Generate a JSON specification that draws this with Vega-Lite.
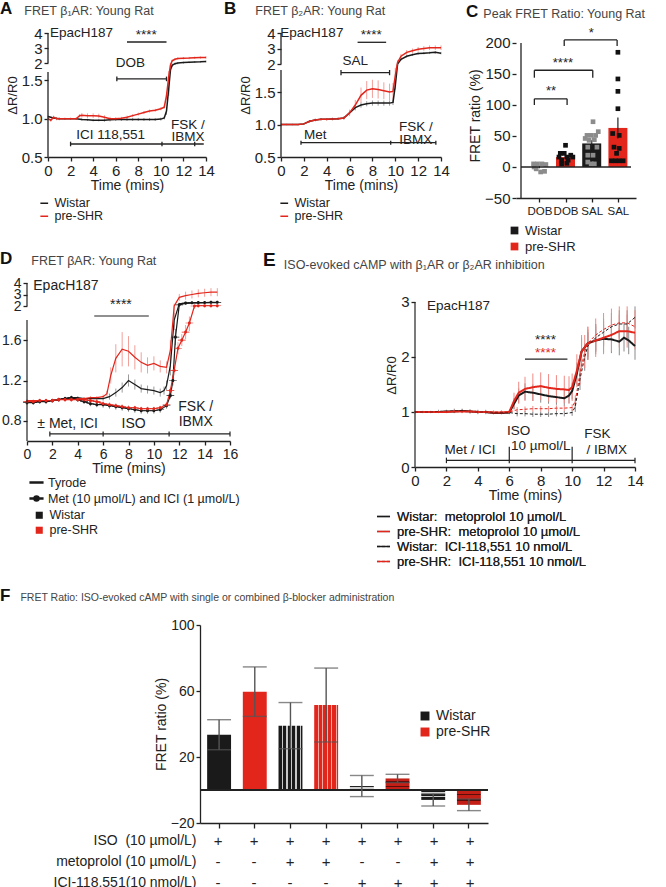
{
"$schema":"https://vega.github.io/schema/vega-lite/v6.json",
"padding":0,
"config":{
 "font":"Liberation Sans",
 "view":{"stroke":null},
 "axis":{"grid":false,"domainColor":"#222","tickColor":"#222","labelColor":"#222","titleColor":"#222","titleFontWeight":"normal","labelFontSize":15,"titleFontSize":14,"tickSize":4,"domainWidth":1.3,"tickWidth":1.3,"labelPadding":2,"titlePadding":2,"labelOverlap":false,"labelFlush":false},
 "legend":{"labelFontSize":12.5,"labelColor":"#222","rowPadding":1,"labelLimit":400},
 "title":{"anchor":"start","frame":"group","fontSize":17,"fontWeight":"bold","color":"#111","subtitleFontSize":12.5,"subtitleColor":"#444","subtitleFont":"Liberation Sans","subtitlePadding":-13.5},
 "text":{"font":"Liberation Sans"}
},
"datasets":{
 "a":[
  {"t":0,"g":"Wistar","v":1.03,"e":0.01},{"t":0.5,"g":"Wistar","v":1.01,"e":0.01},{"t":1,"g":"Wistar","v":1.0,"e":0.01},{"t":1.5,"g":"Wistar","v":1.0,"e":0.01},{"t":2,"g":"Wistar","v":1.0,"e":0.01},{"t":2.5,"g":"Wistar","v":1.0,"e":0.012},{"t":3,"g":"Wistar","v":0.99,"e":0.015},{"t":3.5,"g":"Wistar","v":0.985,"e":0.015},{"t":4,"g":"Wistar","v":0.98,"e":0.015},{"t":4.5,"g":"Wistar","v":0.98,"e":0.015},{"t":5,"g":"Wistar","v":0.98,"e":0.02},{"t":5.5,"g":"Wistar","v":0.985,"e":0.02},{"t":6,"g":"Wistar","v":0.99,"e":0.02},{"t":6.5,"g":"Wistar","v":0.99,"e":0.02},{"t":7,"g":"Wistar","v":0.99,"e":0.02},{"t":7.5,"g":"Wistar","v":0.99,"e":0.02},{"t":8,"g":"Wistar","v":0.99,"e":0.02},{"t":8.5,"g":"Wistar","v":0.99,"e":0.02},{"t":9,"g":"Wistar","v":0.99,"e":0.02},{"t":9.5,"g":"Wistar","v":0.99,"e":0.02},{"t":10,"g":"Wistar","v":0.995,"e":0.02},{"t":10.3,"g":"Wistar","v":1.01,"e":0.02},{"t":10.5,"g":"Wistar","v":1.1,"e":0.05},{"t":10.7,"g":"Wistar","v":1.4,"e":0.1},{"t":10.85,"g":"Wistar","v":1.7,"e":0.1},{"t":11,"g":"Wistar","v":1.9,"e":0.08},{"t":11.25,"g":"Wistar","v":1.97,"e":0.06},{"t":11.5,"g":"Wistar","v":2.0,"e":0.06},{"t":12,"g":"Wistar","v":2.03,"e":0.06},{"t":12.5,"g":"Wistar","v":2.05,"e":0.06},{"t":13,"g":"Wistar","v":2.07,"e":0.06},{"t":13.5,"g":"Wistar","v":2.08,"e":0.06},{"t":14,"g":"Wistar","v":2.1,"e":0.06},
  {"t":0,"g":"pre-SHR","v":1.0,"e":0.02},{"t":0.25,"g":"pre-SHR","v":0.98,"e":0.02},{"t":0.5,"g":"pre-SHR","v":1.02,"e":0.02},{"t":0.75,"g":"pre-SHR","v":1.0,"e":0.02},{"t":1,"g":"pre-SHR","v":1.0,"e":0.02},{"t":1.5,"g":"pre-SHR","v":1.0,"e":0.015},{"t":2,"g":"pre-SHR","v":1.0,"e":0.015},{"t":2.5,"g":"pre-SHR","v":1.0,"e":0.015},{"t":2.8,"g":"pre-SHR","v":1.04,"e":0.02},{"t":3,"g":"pre-SHR","v":1.045,"e":0.03},{"t":3.5,"g":"pre-SHR","v":1.04,"e":0.03},{"t":4,"g":"pre-SHR","v":1.04,"e":0.03},{"t":4.5,"g":"pre-SHR","v":1.035,"e":0.03},{"t":5,"g":"pre-SHR","v":1.02,"e":0.025},{"t":5.5,"g":"pre-SHR","v":1.0,"e":0.025},{"t":6,"g":"pre-SHR","v":1.0,"e":0.02},{"t":6.5,"g":"pre-SHR","v":1.005,"e":0.02},{"t":7,"g":"pre-SHR","v":1.02,"e":0.02},{"t":7.5,"g":"pre-SHR","v":1.04,"e":0.02},{"t":8,"g":"pre-SHR","v":1.06,"e":0.02},{"t":8.5,"g":"pre-SHR","v":1.08,"e":0.02},{"t":9,"g":"pre-SHR","v":1.1,"e":0.02},{"t":9.5,"g":"pre-SHR","v":1.11,"e":0.02},{"t":10,"g":"pre-SHR","v":1.13,"e":0.02},{"t":10.3,"g":"pre-SHR","v":1.15,"e":0.02},{"t":10.5,"g":"pre-SHR","v":1.3,"e":0.05},{"t":10.7,"g":"pre-SHR","v":1.55,"e":0.1},{"t":10.85,"g":"pre-SHR","v":1.9,"e":0.1},{"t":11,"g":"pre-SHR","v":2.15,"e":0.08},{"t":11.25,"g":"pre-SHR","v":2.25,"e":0.08},{"t":11.5,"g":"pre-SHR","v":2.3,"e":0.08},{"t":12,"g":"pre-SHR","v":2.32,"e":0.08},{"t":12.5,"g":"pre-SHR","v":2.33,"e":0.08},{"t":13,"g":"pre-SHR","v":2.35,"e":0.08},{"t":13.5,"g":"pre-SHR","v":2.36,"e":0.08},{"t":14,"g":"pre-SHR","v":2.37,"e":0.08}
 ],
 "b":[
  {"t":0,"g":"Wistar","v":1.0,"e":0.01},{"t":0.5,"g":"Wistar","v":1.0,"e":0.01},{"t":1,"g":"Wistar","v":1.0,"e":0.01},{"t":1.5,"g":"Wistar","v":1.0,"e":0.01},{"t":2,"g":"Wistar","v":1.01,"e":0.01},{"t":2.5,"g":"Wistar","v":1.05,"e":0.02},{"t":3,"g":"Wistar","v":1.07,"e":0.02},{"t":3.5,"g":"Wistar","v":1.08,"e":0.02},{"t":4,"g":"Wistar","v":1.08,"e":0.02},{"t":4.5,"g":"Wistar","v":1.085,"e":0.02},{"t":5,"g":"Wistar","v":1.09,"e":0.02},{"t":5.5,"g":"Wistar","v":1.1,"e":0.02},{"t":6,"g":"Wistar","v":1.18,"e":0.03},{"t":6.5,"g":"Wistar","v":1.26,"e":0.04},{"t":7,"g":"Wistar","v":1.3,"e":0.04},{"t":7.5,"g":"Wistar","v":1.32,"e":0.04},{"t":8,"g":"Wistar","v":1.33,"e":0.04},{"t":8.5,"g":"Wistar","v":1.33,"e":0.04},{"t":9,"g":"Wistar","v":1.33,"e":0.04},{"t":9.5,"g":"Wistar","v":1.33,"e":0.04},{"t":9.8,"g":"Wistar","v":1.34,"e":0.04},{"t":10,"g":"Wistar","v":1.6,"e":0.06},{"t":10.2,"g":"Wistar","v":2.0,"e":0.08},{"t":10.5,"g":"Wistar","v":2.3,"e":0.08},{"t":11,"g":"Wistar","v":2.5,"e":0.08},{"t":11.5,"g":"Wistar","v":2.6,"e":0.08},{"t":12,"g":"Wistar","v":2.67,"e":0.08},{"t":12.5,"g":"Wistar","v":2.7,"e":0.08},{"t":13,"g":"Wistar","v":2.72,"e":0.08},{"t":13.5,"g":"Wistar","v":2.75,"e":0.08},{"t":14,"g":"Wistar","v":2.7,"e":0.08},
  {"t":0,"g":"pre-SHR","v":1.0,"e":0.01},{"t":0.5,"g":"pre-SHR","v":1.0,"e":0.01},{"t":1,"g":"pre-SHR","v":1.0,"e":0.01},{"t":1.5,"g":"pre-SHR","v":1.0,"e":0.01},{"t":2,"g":"pre-SHR","v":1.01,"e":0.01},{"t":2.5,"g":"pre-SHR","v":1.05,"e":0.02},{"t":3,"g":"pre-SHR","v":1.07,"e":0.02},{"t":3.5,"g":"pre-SHR","v":1.08,"e":0.02},{"t":4,"g":"pre-SHR","v":1.08,"e":0.02},{"t":4.5,"g":"pre-SHR","v":1.085,"e":0.02},{"t":5,"g":"pre-SHR","v":1.09,"e":0.02},{"t":5.5,"g":"pre-SHR","v":1.1,"e":0.03},{"t":6,"g":"pre-SHR","v":1.18,"e":0.05},{"t":6.5,"g":"pre-SHR","v":1.3,"e":0.08},{"t":7,"g":"pre-SHR","v":1.45,"e":0.12},{"t":7.5,"g":"pre-SHR","v":1.53,"e":0.14},{"t":8,"g":"pre-SHR","v":1.55,"e":0.14},{"t":8.5,"g":"pre-SHR","v":1.54,"e":0.14},{"t":9,"g":"pre-SHR","v":1.52,"e":0.13},{"t":9.5,"g":"pre-SHR","v":1.5,"e":0.13},{"t":9.8,"g":"pre-SHR","v":1.51,"e":0.13},{"t":10,"g":"pre-SHR","v":1.75,"e":0.15},{"t":10.2,"g":"pre-SHR","v":2.1,"e":0.15},{"t":10.5,"g":"pre-SHR","v":2.5,"e":0.15},{"t":11,"g":"pre-SHR","v":2.75,"e":0.15},{"t":11.5,"g":"pre-SHR","v":2.85,"e":0.15},{"t":12,"g":"pre-SHR","v":2.95,"e":0.15},{"t":12.5,"g":"pre-SHR","v":3.0,"e":0.15},{"t":13,"g":"pre-SHR","v":3.05,"e":0.15},{"t":13.5,"g":"pre-SHR","v":3.05,"e":0.15},{"t":14,"g":"pre-SHR","v":3.05,"e":0.15}
 ],
 "cbar":[
  {"x":1,"g":"Wistar","v":0,"e":2},{"x":2,"g":"pre-SHR","v":16,"e":3},{"x":3,"g":"Wistar","v":38,"e":5},{"x":4,"g":"pre-SHR","v":63,"e":17}
 ],
 "cpts":[
  {"x":0.78,"g":"Wistar","v":5},{"x":0.93,"g":"Wistar","v":5},{"x":1.1,"g":"Wistar","v":5},{"x":1.25,"g":"Wistar","v":4},{"x":0.88,"g":"Wistar","v":-3},{"x":1.05,"g":"Wistar","v":-8},{"x":1.2,"g":"Wistar","v":-7},{"x":0.8,"g":"Wistar","v":0},
  {"x":2.0,"g":"pre-SHR","v":35},{"x":1.8,"g":"pre-SHR","v":22},{"x":1.95,"g":"pre-SHR","v":22},{"x":2.2,"g":"pre-SHR","v":19},{"x":1.75,"g":"pre-SHR","v":16},{"x":2.05,"g":"pre-SHR","v":16},{"x":1.85,"g":"pre-SHR","v":11},{"x":2.1,"g":"pre-SHR","v":11},{"x":2.28,"g":"pre-SHR","v":16},{"x":1.85,"g":"pre-SHR","v":5},{"x":2.05,"g":"pre-SHR","v":6},
  {"x":3.05,"g":"Wistar","v":73},{"x":2.82,"g":"Wistar","v":51},{"x":2.98,"g":"Wistar","v":51},{"x":3.15,"g":"Wistar","v":51},{"x":3.25,"g":"Wistar","v":57},{"x":2.75,"g":"Wistar","v":46},{"x":2.9,"g":"Wistar","v":43},{"x":3.1,"g":"Wistar","v":44},{"x":2.85,"g":"Wistar","v":32},{"x":3.2,"g":"Wistar","v":32},{"x":2.85,"g":"Wistar","v":19},{"x":3.05,"g":"Wistar","v":19},{"x":2.85,"g":"Wistar","v":8},{"x":3.1,"g":"Wistar","v":5},{"x":2.98,"g":"Wistar","v":5},
  {"x":4.0,"g":"pre-SHR","v":185},{"x":4.0,"g":"pre-SHR","v":142},{"x":4.0,"g":"pre-SHR","v":122},{"x":4.0,"g":"pre-SHR","v":94},{"x":3.8,"g":"pre-SHR","v":54},{"x":4.05,"g":"pre-SHR","v":51},{"x":3.85,"g":"pre-SHR","v":32},{"x":4.05,"g":"pre-SHR","v":30},{"x":3.95,"g":"pre-SHR","v":22},{"x":3.75,"g":"pre-SHR","v":10},{"x":3.9,"g":"pre-SHR","v":10},{"x":4.05,"g":"pre-SHR","v":10},{"x":4.2,"g":"pre-SHR","v":10}
 ],
 "d":[
  {"t":0,"g":"Wistar","k":"T","v":1.0,"e":0.01},{"t":0.5,"g":"Wistar","k":"T","v":0.99,"e":0.01},{"t":1,"g":"Wistar","k":"T","v":0.99,"e":0.01},{"t":1.5,"g":"Wistar","k":"T","v":1.0,"e":0.01},{"t":2,"g":"Wistar","k":"T","v":1.0,"e":0.01},{"t":2.5,"g":"Wistar","k":"T","v":1.01,"e":0.01},{"t":3,"g":"Wistar","k":"T","v":1.02,"e":0.015},{"t":3.5,"g":"Wistar","k":"T","v":1.03,"e":0.015},{"t":4,"g":"Wistar","k":"T","v":1.03,"e":0.015},{"t":4.5,"g":"Wistar","k":"T","v":1.02,"e":0.015},{"t":5,"g":"Wistar","k":"T","v":1.02,"e":0.015},{"t":5.5,"g":"Wistar","k":"T","v":1.02,"e":0.015},{"t":6,"g":"Wistar","k":"T","v":1.02,"e":0.02},{"t":6.5,"g":"Wistar","k":"T","v":1.04,"e":0.03},{"t":7,"g":"Wistar","k":"T","v":1.08,"e":0.04},{"t":7.5,"g":"Wistar","k":"T","v":1.13,"e":0.05},{"t":8,"g":"Wistar","k":"T","v":1.2,"e":0.06},{"t":8.5,"g":"Wistar","k":"T","v":1.16,"e":0.05},{"t":9,"g":"Wistar","k":"T","v":1.12,"e":0.04},{"t":9.5,"g":"Wistar","k":"T","v":1.11,"e":0.04},{"t":10,"g":"Wistar","k":"T","v":1.1,"e":0.04},{"t":10.5,"g":"Wistar","k":"T","v":1.08,"e":0.04},{"t":10.8,"g":"Wistar","k":"T","v":1.1,"e":0.04},{"t":11,"g":"Wistar","k":"T","v":1.15,"e":0.05},{"t":11.3,"g":"Wistar","k":"T","v":1.35,"e":0.1},{"t":11.6,"g":"Wistar","k":"T","v":1.8,"e":0.1},{"t":12,"g":"Wistar","k":"T","v":2.2,"e":0.08},{"t":12.5,"g":"Wistar","k":"T","v":2.25,"e":0.08},{"t":13,"g":"Wistar","k":"T","v":2.27,"e":0.08},{"t":13.5,"g":"Wistar","k":"T","v":2.28,"e":0.08},{"t":14,"g":"Wistar","k":"T","v":2.3,"e":0.08},{"t":14.5,"g":"Wistar","k":"T","v":2.3,"e":0.08},{"t":15,"g":"Wistar","k":"T","v":2.3,"e":0.08},
  {"t":0,"g":"pre-SHR","k":"T","v":1.0,"e":0.01},{"t":0.5,"g":"pre-SHR","k":"T","v":1.0,"e":0.01},{"t":1,"g":"pre-SHR","k":"T","v":1.0,"e":0.01},{"t":1.5,"g":"pre-SHR","k":"T","v":1.0,"e":0.01},{"t":2,"g":"pre-SHR","k":"T","v":1.0,"e":0.01},{"t":2.5,"g":"pre-SHR","k":"T","v":1.01,"e":0.01},{"t":3,"g":"pre-SHR","k":"T","v":1.02,"e":0.015},{"t":3.5,"g":"pre-SHR","k":"T","v":1.02,"e":0.015},{"t":4,"g":"pre-SHR","k":"T","v":1.02,"e":0.015},{"t":4.5,"g":"pre-SHR","k":"T","v":1.02,"e":0.015},{"t":5,"g":"pre-SHR","k":"T","v":1.03,"e":0.015},{"t":5.5,"g":"pre-SHR","k":"T","v":1.03,"e":0.015},{"t":6,"g":"pre-SHR","k":"T","v":1.04,"e":0.02},{"t":6.3,"g":"pre-SHR","k":"T","v":1.07,"e":0.03},{"t":6.6,"g":"pre-SHR","k":"T","v":1.25,"e":0.08},{"t":7,"g":"pre-SHR","k":"T","v":1.42,"e":0.14},{"t":7.5,"g":"pre-SHR","k":"T","v":1.51,"e":0.17},{"t":8,"g":"pre-SHR","k":"T","v":1.49,"e":0.15},{"t":8.5,"g":"pre-SHR","k":"T","v":1.43,"e":0.12},{"t":9,"g":"pre-SHR","k":"T","v":1.38,"e":0.1},{"t":9.5,"g":"pre-SHR","k":"T","v":1.35,"e":0.08},{"t":10,"g":"pre-SHR","k":"T","v":1.37,"e":0.07},{"t":10.5,"g":"pre-SHR","k":"T","v":1.34,"e":0.06},{"t":11,"g":"pre-SHR","k":"T","v":1.33,"e":0.06},{"t":11.3,"g":"pre-SHR","k":"T","v":1.5,"e":0.1},{"t":11.6,"g":"pre-SHR","k":"T","v":2.0,"e":0.2},{"t":12,"g":"pre-SHR","k":"T","v":2.75,"e":0.3},{"t":12.5,"g":"pre-SHR","k":"T","v":2.9,"e":0.35},{"t":13,"g":"pre-SHR","k":"T","v":3.0,"e":0.35},{"t":13.5,"g":"pre-SHR","k":"T","v":3.1,"e":0.35},{"t":14,"g":"pre-SHR","k":"T","v":3.15,"e":0.35},{"t":14.5,"g":"pre-SHR","k":"T","v":3.2,"e":0.35},{"t":15,"g":"pre-SHR","k":"T","v":3.2,"e":0.35},
  {"t":0,"g":"Wistar","k":"M","v":0.98,"e":0.02},{"t":0.5,"g":"Wistar","k":"M","v":0.98,"e":0.02},{"t":1,"g":"Wistar","k":"M","v":0.99,"e":0.02},{"t":1.5,"g":"Wistar","k":"M","v":0.99,"e":0.02},{"t":2,"g":"Wistar","k":"M","v":1.0,"e":0.02},{"t":2.5,"g":"Wistar","k":"M","v":1.01,"e":0.02},{"t":3,"g":"Wistar","k":"M","v":1.02,"e":0.02},{"t":3.5,"g":"Wistar","k":"M","v":1.03,"e":0.02},{"t":4,"g":"Wistar","k":"M","v":1.01,"e":0.02},{"t":4.5,"g":"Wistar","k":"M","v":0.99,"e":0.02},{"t":5,"g":"Wistar","k":"M","v":0.97,"e":0.025},{"t":5.5,"g":"Wistar","k":"M","v":0.96,"e":0.025},{"t":6,"g":"Wistar","k":"M","v":0.96,"e":0.03},{"t":6.5,"g":"Wistar","k":"M","v":0.95,"e":0.03},{"t":7,"g":"Wistar","k":"M","v":0.94,"e":0.03},{"t":7.5,"g":"Wistar","k":"M","v":0.93,"e":0.03},{"t":8,"g":"Wistar","k":"M","v":0.92,"e":0.03},{"t":8.5,"g":"Wistar","k":"M","v":0.91,"e":0.03},{"t":9,"g":"Wistar","k":"M","v":0.9,"e":0.03},{"t":9.5,"g":"Wistar","k":"M","v":0.9,"e":0.03},{"t":10,"g":"Wistar","k":"M","v":0.9,"e":0.03},{"t":10.5,"g":"Wistar","k":"M","v":0.91,"e":0.03},{"t":11,"g":"Wistar","k":"M","v":0.95,"e":0.03},{"t":11.3,"g":"Wistar","k":"M","v":1.05,"e":0.03},{"t":11.5,"g":"Wistar","k":"M","v":1.2,"e":0.05},{"t":11.7,"g":"Wistar","k":"M","v":1.63,"e":0.08},{"t":12,"g":"Wistar","k":"M","v":2.1,"e":0.08},{"t":12.5,"g":"Wistar","k":"M","v":2.25,"e":0.06},{"t":13,"g":"Wistar","k":"M","v":2.28,"e":0.06},{"t":13.5,"g":"Wistar","k":"M","v":2.3,"e":0.06},{"t":14,"g":"Wistar","k":"M","v":2.3,"e":0.06},{"t":14.5,"g":"Wistar","k":"M","v":2.32,"e":0.06},{"t":15,"g":"Wistar","k":"M","v":2.32,"e":0.06},
  {"t":0,"g":"pre-SHR","k":"M","v":0.99,"e":0.02},{"t":0.5,"g":"pre-SHR","k":"M","v":0.99,"e":0.02},{"t":1,"g":"pre-SHR","k":"M","v":1.0,"e":0.02},{"t":1.5,"g":"pre-SHR","k":"M","v":1.0,"e":0.02},{"t":2,"g":"pre-SHR","k":"M","v":1.0,"e":0.02},{"t":2.5,"g":"pre-SHR","k":"M","v":1.01,"e":0.02},{"t":3,"g":"pre-SHR","k":"M","v":1.01,"e":0.02},{"t":3.5,"g":"pre-SHR","k":"M","v":1.01,"e":0.02},{"t":4,"g":"pre-SHR","k":"M","v":1.01,"e":0.02},{"t":4.5,"g":"pre-SHR","k":"M","v":1.01,"e":0.02},{"t":5,"g":"pre-SHR","k":"M","v":1.0,"e":0.02},{"t":5.5,"g":"pre-SHR","k":"M","v":0.99,"e":0.02},{"t":6,"g":"pre-SHR","k":"M","v":0.97,"e":0.02},{"t":6.5,"g":"pre-SHR","k":"M","v":0.96,"e":0.02},{"t":7,"g":"pre-SHR","k":"M","v":0.95,"e":0.02},{"t":7.5,"g":"pre-SHR","k":"M","v":0.94,"e":0.02},{"t":8,"g":"pre-SHR","k":"M","v":0.93,"e":0.02},{"t":8.5,"g":"pre-SHR","k":"M","v":0.93,"e":0.02},{"t":9,"g":"pre-SHR","k":"M","v":0.92,"e":0.02},{"t":9.5,"g":"pre-SHR","k":"M","v":0.92,"e":0.02},{"t":10,"g":"pre-SHR","k":"M","v":0.92,"e":0.02},{"t":10.5,"g":"pre-SHR","k":"M","v":0.93,"e":0.02},{"t":11,"g":"pre-SHR","k":"M","v":0.96,"e":0.02},{"t":11.3,"g":"pre-SHR","k":"M","v":1.1,"e":0.03},{"t":11.6,"g":"pre-SHR","k":"M","v":1.3,"e":0.05},{"t":11.9,"g":"pre-SHR","k":"M","v":1.52,"e":0.06},{"t":12.2,"g":"pre-SHR","k":"M","v":1.6,"e":0.06},{"t":12.5,"g":"pre-SHR","k":"M","v":1.68,"e":0.07},{"t":12.8,"g":"pre-SHR","k":"M","v":1.77,"e":0.08},{"t":13.2,"g":"pre-SHR","k":"M","v":2.0,"e":0.04},{"t":13.5,"g":"pre-SHR","k":"M","v":2.02,"e":0.04},{"t":14,"g":"pre-SHR","k":"M","v":2.02,"e":0.04},{"t":14.5,"g":"pre-SHR","k":"M","v":2.02,"e":0.04},{"t":15,"g":"pre-SHR","k":"M","v":2.02,"e":0.04}
 ],
 "e":[
  {"t":0,"s":"WM","v":1.0,"e":0.01},{"t":0.5,"s":"WM","v":1.0,"e":0.01},{"t":1,"s":"WM","v":1.0,"e":0.01},{"t":1.5,"s":"WM","v":1.0,"e":0.01},{"t":2,"s":"WM","v":1.01,"e":0.02},{"t":2.5,"s":"WM","v":1.01,"e":0.02},{"t":3,"s":"WM","v":1.02,"e":0.03},{"t":3.5,"s":"WM","v":1.01,"e":0.02},{"t":4,"s":"WM","v":1.0,"e":0.02},{"t":4.5,"s":"WM","v":1.0,"e":0.02},{"t":5,"s":"WM","v":0.98,"e":0.02},{"t":5.5,"s":"WM","v":0.98,"e":0.02},{"t":6,"s":"WM","v":0.99,"e":0.02},{"t":6.3,"s":"WM","v":1.15,"e":0.1},{"t":6.6,"s":"WM","v":1.3,"e":0.13},{"t":7,"s":"WM","v":1.37,"e":0.15},{"t":7.5,"s":"WM","v":1.35,"e":0.15},{"t":8,"s":"WM","v":1.32,"e":0.15},{"t":8.5,"s":"WM","v":1.29,"e":0.14},{"t":9,"s":"WM","v":1.27,"e":0.14},{"t":9.5,"s":"WM","v":1.25,"e":0.14},{"t":9.8,"s":"WM","v":1.3,"e":0.14},{"t":10,"s":"WM","v":1.38,"e":0.15},{"t":10.3,"s":"WM","v":1.7,"e":0.2},{"t":10.6,"s":"WM","v":2.1,"e":0.25},{"t":11,"s":"WM","v":2.25,"e":0.25},{"t":11.5,"s":"WM","v":2.3,"e":0.25},{"t":12,"s":"WM","v":2.33,"e":0.25},{"t":12.5,"s":"WM","v":2.32,"e":0.25},{"t":13,"s":"WM","v":2.28,"e":0.25},{"t":13.3,"s":"WM","v":2.35,"e":0.25},{"t":13.6,"s":"WM","v":2.3,"e":0.25},{"t":14,"s":"WM","v":2.2,"e":0.25},
  {"t":0,"s":"RM","v":1.0,"e":0.01},{"t":0.5,"s":"RM","v":1.0,"e":0.01},{"t":1,"s":"RM","v":1.0,"e":0.01},{"t":1.5,"s":"RM","v":1.0,"e":0.01},{"t":2,"s":"RM","v":1.0,"e":0.02},{"t":2.5,"s":"RM","v":1.01,"e":0.02},{"t":3,"s":"RM","v":1.01,"e":0.02},{"t":3.5,"s":"RM","v":1.01,"e":0.02},{"t":4,"s":"RM","v":1.0,"e":0.02},{"t":4.5,"s":"RM","v":1.0,"e":0.02},{"t":5,"s":"RM","v":0.99,"e":0.02},{"t":5.5,"s":"RM","v":0.99,"e":0.02},{"t":6,"s":"RM","v":1.0,"e":0.02},{"t":6.3,"s":"RM","v":1.2,"e":0.15},{"t":6.6,"s":"RM","v":1.35,"e":0.2},{"t":7,"s":"RM","v":1.42,"e":0.22},{"t":7.5,"s":"RM","v":1.45,"e":0.25},{"t":8,"s":"RM","v":1.47,"e":0.25},{"t":8.5,"s":"RM","v":1.44,"e":0.25},{"t":9,"s":"RM","v":1.42,"e":0.25},{"t":9.5,"s":"RM","v":1.41,"e":0.25},{"t":9.8,"s":"RM","v":1.4,"e":0.25},{"t":10,"s":"RM","v":1.45,"e":0.25},{"t":10.3,"s":"RM","v":1.75,"e":0.3},{"t":10.6,"s":"RM","v":2.1,"e":0.3},{"t":11,"s":"RM","v":2.25,"e":0.3},{"t":11.5,"s":"RM","v":2.3,"e":0.3},{"t":12,"s":"RM","v":2.35,"e":0.3},{"t":12.5,"s":"RM","v":2.4,"e":0.3},{"t":13,"s":"RM","v":2.47,"e":0.3},{"t":13.5,"s":"RM","v":2.47,"e":0.3},{"t":14,"s":"RM","v":2.44,"e":0.3},
  {"t":0,"s":"WI","v":1.0,"e":0.02},{"t":0.5,"s":"WI","v":1.0,"e":0.02},{"t":1,"s":"WI","v":1.0,"e":0.02},{"t":1.5,"s":"WI","v":1.01,"e":0.03},{"t":2,"s":"WI","v":1.01,"e":0.03},{"t":2.5,"s":"WI","v":1.02,"e":0.04},{"t":3,"s":"WI","v":1.02,"e":0.04},{"t":3.5,"s":"WI","v":1.01,"e":0.04},{"t":4,"s":"WI","v":1.0,"e":0.04},{"t":4.5,"s":"WI","v":1.0,"e":0.04},{"t":5,"s":"WI","v":0.99,"e":0.03},{"t":5.5,"s":"WI","v":0.99,"e":0.03},{"t":6,"s":"WI","v":0.99,"e":0.03},{"t":6.5,"s":"WI","v":0.97,"e":0.05},{"t":7,"s":"WI","v":0.97,"e":0.05},{"t":7.5,"s":"WI","v":0.96,"e":0.05},{"t":8,"s":"WI","v":0.96,"e":0.05},{"t":8.5,"s":"WI","v":0.96,"e":0.05},{"t":9,"s":"WI","v":0.97,"e":0.05},{"t":9.5,"s":"WI","v":0.97,"e":0.05},{"t":10,"s":"WI","v":0.99,"e":0.06},{"t":10.2,"s":"WI","v":1.1,"e":0.1},{"t":10.5,"s":"WI","v":1.6,"e":0.2},{"t":10.8,"s":"WI","v":2.0,"e":0.25},{"t":11,"s":"WI","v":2.2,"e":0.25},{"t":11.5,"s":"WI","v":2.35,"e":0.25},{"t":12,"s":"WI","v":2.45,"e":0.25},{"t":12.5,"s":"WI","v":2.55,"e":0.25},{"t":13,"s":"WI","v":2.6,"e":0.25},{"t":13.5,"s":"WI","v":2.6,"e":0.25},{"t":14,"s":"WI","v":2.72,"e":0.2},
  {"t":0,"s":"RI","v":1.0,"e":0.02},{"t":0.5,"s":"RI","v":1.0,"e":0.02},{"t":1,"s":"RI","v":1.0,"e":0.02},{"t":1.5,"s":"RI","v":1.0,"e":0.02},{"t":2,"s":"RI","v":1.01,"e":0.02},{"t":2.5,"s":"RI","v":1.01,"e":0.03},{"t":3,"s":"RI","v":1.01,"e":0.03},{"t":3.5,"s":"RI","v":1.01,"e":0.03},{"t":4,"s":"RI","v":1.0,"e":0.03},{"t":4.5,"s":"RI","v":1.0,"e":0.03},{"t":5,"s":"RI","v":1.0,"e":0.03},{"t":5.5,"s":"RI","v":1.0,"e":0.03},{"t":6,"s":"RI","v":1.0,"e":0.03},{"t":6.5,"s":"RI","v":1.04,"e":0.05},{"t":7,"s":"RI","v":1.05,"e":0.05},{"t":7.5,"s":"RI","v":1.06,"e":0.05},{"t":8,"s":"RI","v":1.06,"e":0.05},{"t":8.5,"s":"RI","v":1.06,"e":0.05},{"t":9,"s":"RI","v":1.07,"e":0.05},{"t":9.5,"s":"RI","v":1.07,"e":0.05},{"t":10,"s":"RI","v":1.08,"e":0.06},{"t":10.2,"s":"RI","v":1.2,"e":0.1},{"t":10.5,"s":"RI","v":1.7,"e":0.2},{"t":10.8,"s":"RI","v":2.1,"e":0.3},{"t":11,"s":"RI","v":2.25,"e":0.3},{"t":11.5,"s":"RI","v":2.4,"e":0.3},{"t":12,"s":"RI","v":2.5,"e":0.3},{"t":12.5,"s":"RI","v":2.58,"e":0.3},{"t":13,"s":"RI","v":2.62,"e":0.3},{"t":13.5,"s":"RI","v":2.62,"e":0.3},{"t":14,"s":"RI","v":2.55,"e":0.3}
 ],
 "f":[
  {"id":1,"g":"Wistar","v":33.5,"e":9.1},{"id":2,"g":"pre-SHR","v":59.6,"e":15},{"id":3,"g":"Wistar","v":39,"e":14},{"id":4,"g":"pre-SHR","v":51.5,"e":22.4},{"id":5,"g":"Wistar","v":2.4,"e":6.4},{"id":6,"g":"pre-SHR","v":7,"e":2.5},{"id":7,"g":"Wistar","v":-6,"e":3.7},{"id":8,"g":"pre-SHR","v":-9,"e":3.5}
 ],
 "ft":[
  {"id":1,"r":"a","s":"+"},{"id":2,"r":"a","s":"+"},{"id":3,"r":"a","s":"+"},{"id":4,"r":"a","s":"+"},{"id":5,"r":"a","s":"+"},{"id":6,"r":"a","s":"+"},{"id":7,"r":"a","s":"+"},{"id":8,"r":"a","s":"+"},
  {"id":1,"r":"b","s":"-"},{"id":2,"r":"b","s":"-"},{"id":3,"r":"b","s":"+"},{"id":4,"r":"b","s":"+"},{"id":5,"r":"b","s":"-"},{"id":6,"r":"b","s":"-"},{"id":7,"r":"b","s":"+"},{"id":8,"r":"b","s":"+"},
  {"id":1,"r":"c","s":"-"},{"id":2,"r":"c","s":"-"},{"id":3,"r":"c","s":"-"},{"id":4,"r":"c","s":"-"},{"id":5,"r":"c","s":"+"},{"id":6,"r":"c","s":"+"},{"id":7,"r":"c","s":"+"},{"id":8,"r":"c","s":"+"}
 ]
},
"spacing":-4,
"resolve":{"scale":{"color":"independent","shape":"independent","strokeDash":"independent"},"legend":{"color":"independent","shape":"independent","strokeDash":"independent"}},
"vconcat":[
 {"hconcat":[
   {"width":1,"height":1,"data":{"values":[{"z":0}]},"mark":{"type":"point","opacity":0}},
   {"hconcat":[
     {"width":158,"height":124,"data":{"name":"a"},
      "title":{"text":"A","subtitle":"\u200b\u00a0\u00a0\u00a0\u00a0\u00a0\u00a0\u00a0FRET β₁AR: Young Rat","dx":-48,"offset":8},
      "encoding":{"x":{"field":"t","type":"quantitative","scale":{"domain":[0,14],"nice":false},"axis":{"values":[0,2,4,6,8,10,12,14],"title":"Time (mins)","titlePadding":0}},
                  "y":{"field":"v","type":"quantitative","scale":{"domain":[0.5,1.61,2,4],"range":[124,39,30,0],"nice":false,"zero":false},"axis":{"values":[0.5,1,1.5,2,3,4],"labelExpr":"datum.value>=2 ? format(datum.value,'d') : format(datum.value,'.1f')","title":"ΔR/R0","titleFontSize":13,"domain":false}}},
      "layer":[
        {"mark":{"type":"errorbar","thickness":1},"encoding":{"yError":{"field":"e"},"color":{"field":"g","type":"nominal","scale":{"domain":["Wistar","pre-SHR"],"range":["#9b9b9b","#f2a09a"]},"legend":null}}},
        {"mark":{"type":"line","strokeWidth":1.5},"encoding":{"color":{"field":"g","type":"nominal","scale":{"domain":["Wistar","pre-SHR"],"range":["#1a1a1a","#e3261c"]},"legend":{"orient":"none","legendX":-10,"legendY":164,"title":null,"symbolType":"stroke","symbolSize":60,"symbolStrokeWidth":1.5,"rowPadding":0,"labelOffset":4}}}},
        {"data":{"values":[{"t":0,"t2":0,"v":0.5,"v2":1.61},{"t":0,"t2":0,"v":2,"v2":4},{"t":7,"t2":10.5,"v":3.4,"v2":3.4},{"t":6.1,"t2":10.5,"v":1.52,"v2":1.52},{"t":6.1,"t2":6.1,"v":1.49,"v2":1.55},{"t":10.5,"t2":10.5,"v":1.49,"v2":1.55},{"t":2,"t2":13.8,"v":0.67,"v2":0.67},{"t":2,"t2":2,"v":0.64,"v2":0.7},{"t":10.1,"t2":10.1,"v":0.64,"v2":0.7},{"t":13,"t2":13,"v":0.64,"v2":0.7}]},"mark":{"type":"rule","color":"#222","strokeWidth":1.3},"encoding":{"x2":{"field":"t2"},"y2":{"field":"v2"}}},
        {"data":{"values":[{"t":2.97,"v":4.0,"s":"EpacH187"},{"t":8.7,"v":3.87,"s":"****"},{"t":7.3,"v":2.0,"s":"DOB"},{"t":5.55,"v":0.79,"s":"ICI 118,551"},{"t":12.4,"v":0.92,"s":"FSK /"},{"t":12.4,"v":0.76,"s":"IBMX"}]},"mark":{"type":"text","fontSize":13.5,"color":"#222"},"encoding":{"text":{"field":"s"}}}
      ],
      "resolve":{"scale":{"color":"independent"}}},
     {"width":160,"height":124,"data":{"name":"b"},
      "title":{"text":"B","subtitle":"\u200b\u00a0\u00a0\u00a0\u00a0\u00a0\u00a0\u00a0\u00a0\u00a0FRET β₂AR: Young Rat","dx":-57,"offset":8},
      "encoding":{"x":{"field":"t","type":"quantitative","scale":{"domain":[0,14],"nice":false},"axis":{"values":[0,2,4,6,8,10,12,14],"title":"Time (mins)","titlePadding":0}},
                  "y":{"field":"v","type":"quantitative","scale":{"domain":[0.5,1.84,2,4],"range":[124,37,31,0],"nice":false,"zero":false},"axis":{"values":[0.5,1,1.5,2,3,4],"labelExpr":"datum.value>=2 ? format(datum.value,'d') : format(datum.value,'.1f')","title":"ΔR/R0","titleFontSize":13,"domain":false}}},
      "layer":[
        {"mark":{"type":"errorbar","thickness":1},"encoding":{"yError":{"field":"e"},"color":{"field":"g","type":"nominal","scale":{"domain":["Wistar","pre-SHR"],"range":["#9b9b9b","#f2a09a"]},"legend":null}}},
        {"mark":{"type":"line","strokeWidth":1.5},"encoding":{"color":{"field":"g","type":"nominal","scale":{"domain":["Wistar","pre-SHR"],"range":["#1a1a1a","#e3261c"]},"legend":{"orient":"none","legendX":-3,"legendY":164,"title":null,"symbolType":"stroke","symbolSize":60,"symbolStrokeWidth":1.5,"rowPadding":0,"labelOffset":4}}}},
        {"data":{"values":[{"t":0,"t2":0,"v":0.5,"v2":1.84},{"t":0,"t2":0,"v":2,"v2":4},{"t":6.7,"t2":9.2,"v":3.4,"v2":3.4},{"t":5.25,"t2":9.5,"v":1.8,"v2":1.8},{"t":5.25,"t2":5.25,"v":1.76,"v2":1.84},{"t":9.5,"t2":9.5,"v":1.76,"v2":1.84},{"t":1.75,"t2":13.55,"v":0.72,"v2":0.72},{"t":1.75,"t2":1.75,"v":0.69,"v2":0.75},{"t":9.6,"t2":9.6,"v":0.69,"v2":0.75},{"t":13.55,"t2":13.55,"v":0.69,"v2":0.75}]},"mark":{"type":"rule","color":"#222","strokeWidth":1.3},"encoding":{"x2":{"field":"t2"},"y2":{"field":"v2"}}},
        {"data":{"values":[{"t":2.7,"v":4.0,"s":"EpacH187"},{"t":7.9,"v":3.87,"s":"****"},{"t":6.5,"v":2.22,"s":"SAL"},{"t":3.0,"v":0.84,"s":"Met"},{"t":11.8,"v":0.96,"s":"FSK /"},{"t":11.8,"v":0.76,"s":"IBMX"}]},"mark":{"type":"text","fontSize":13.5,"color":"#222"},"encoding":{"text":{"field":"s"}}}
      ],
      "resolve":{"scale":{"color":"independent"}}},
     {"width":120,"height":165,
      "title":{"text":"C","subtitle":"\u200b\u00a0\u00a0\u00a0\u00a0\u00a0Peak FRET Ratio: Young Rat","dx":-50,"offset":6},
      "encoding":{"x":{"field":"x","type":"quantitative","scale":{"domain":[0.3,4.5],"nice":false,"zero":false},"axis":{"values":[1,2,3,4],"labelExpr":"['','DOB','DOB','SAL','SAL'][datum.value]","title":null,"labelFontSize":11.5,"labelPadding":3}},
                  "y":{"field":"v","type":"quantitative","scale":{"domain":[-50,216.1],"nice":false},"axis":{"values":[-50,0,50,100,150,200],"title":"FRET ratio (%)","titleFontSize":14,"domain":false}}},
      "layer":[
        {"data":{"name":"cbar"},"mark":{"type":"bar","width":19},"encoding":{"y":{"field":"v","type":"quantitative","stack":null,"title":"FRET ratio (%)"},"color":{"field":"g","type":"nominal","scale":{"domain":["Wistar","pre-SHR"],"range":["#1a1a1a","#e3261c"]},"legend":{"orient":"none","legendX":-8,"legendY":191,"title":null,"symbolType":"square","symbolSize":60,"labelFontSize":13,"rowPadding":2}}}},
        {"data":{"name":"cbar"},"mark":{"type":"errorbar","thickness":1.2,"color":"#222"},"encoding":{"yError":{"field":"e"}}},
        {"data":{"name":"cpts"},"mark":{"type":"square","size":22,"opacity":1},"encoding":{"color":{"condition":{"test":"datum.g==='Wistar'","value":"#8c8c8c"},"value":"#111"}}},
        {"data":{"values":[{"x":0.3,"x2":0.3,"v":-50,"v2":200},{"x":0.3,"x2":4.5,"v":0,"v2":0},{"x":0.81,"x2":2.06,"v":110,"v2":110},{"x":0.81,"x2":0.81,"v":100,"v2":110},{"x":2.06,"x2":2.06,"v":100,"v2":110},{"x":0.81,"x2":3.04,"v":156,"v2":156},{"x":0.81,"x2":0.81,"v":144,"v2":156},{"x":3.04,"x2":3.04,"v":144,"v2":156},{"x":1.95,"x2":3.97,"v":205,"v2":205},{"x":1.95,"x2":1.95,"v":195,"v2":205},{"x":3.97,"x2":3.97,"v":195,"v2":205}]},"mark":{"type":"rule","color":"#222","strokeWidth":1.3},"encoding":{"x2":{"field":"x2"},"y2":{"field":"v2"}}},
        {"data":{"values":[{"x":1.45,"v":122,"s":"**"},{"x":1.9,"v":168,"s":"****"},{"x":2.98,"v":216,"s":"*"}]},"mark":{"type":"text","fontSize":13,"color":"#222"},"encoding":{"text":{"field":"s"}}}
      ]}
    ],
    "spacing":75,"bounds":"flush",
    "resolve":{"scale":{"color":"independent","shape":"independent","strokeDash":"independent"},"legend":{"color":"independent","shape":"independent","strokeDash":"independent"}}}
  ],
  "spacing":20,"bounds":"flush",
  "resolve":{"scale":{"color":"independent","shape":"independent","strokeDash":"independent"},"legend":{"color":"independent","shape":"independent","strokeDash":"independent"}}},
 {"hconcat":[
   {"width":203,"height":158,"data":{"name":"d"},
    "title":{"text":"D","subtitle":"\u200b\u00a0\u00a0\u00a0\u00a0\u00a0\u00a0\u00a0\u00a0\u00a0FRET βAR: Young Rat","dx":-27,"offset":8},
    "encoding":{"x":{"field":"t","type":"quantitative","scale":{"domain":[0,16],"nice":false},"axis":{"values":[0,2,4,6,8,10,12,14,16],"title":"Time (mins)","labelFontSize":14,"titlePadding":0}},
                "y":{"field":"v","type":"quantitative","scale":{"domain":[0.6,1.8,2,4],"range":[158,37,23,0],"nice":false,"zero":false},"axis":{"values":[0.8,1.2,1.6,2,3,4],"labelExpr":"datum.value>=2 ? format(datum.value,'d') : format(datum.value,'.1f')","title":null,"labelFontSize":14,"domain":false}}},
    "layer":[
      {"mark":{"type":"errorbar","thickness":1},"encoding":{"yError":{"field":"e"},"color":{"field":"g","type":"nominal","scale":{"domain":["Wistar","pre-SHR"],"range":["#9b9b9b","#f2a09a"]},"legend":null}}},
      {"mark":{"type":"line","strokeWidth":1.2},"encoding":{"detail":{"field":"k"},"color":{"field":"g","type":"nominal","scale":{"domain":["Wistar","pre-SHR"],"range":["#1a1a1a","#e3261c"]},"legend":null}}},
      {"transform":[{"filter":"datum.k==='M'"}],"mark":{"type":"point","filled":true,"size":60,"opacity":1},
       "encoding":{"color":{"field":"g","type":"nominal","scale":{"domain":["Wistar","pre-SHR"],"range":["#1a1a1a","#e3261c"]},"legend":{"orient":"none","legendX":6,"legendY":226,"title":null,"symbolType":"square","symbolSize":50,"rowPadding":2}},
                   "shape":{"field":"k","type":"nominal","scale":{"domain":["T","M"],"range":["M-1,-0.08H1V0.08H-1Z","M-1,-0.08H1V0.08H-1ZM0.4,0A0.4,0.4,0,1,1,-0.4,0A0.4,0.4,0,1,1,0.4,0Z"]},"legend":{"orient":"none","legendX":2,"legendY":192,"title":null,"symbolSize":160,"symbolFillColor":"#1a1a1a","symbolStrokeColor":"#1a1a1a","rowPadding":2,"labelOffset":4,"labelExpr":"datum.label==='T' ? 'Tyrode' : 'Met (10 µmol/L) and ICI (1 µmol/L)'"}}}},
      {"data":{"values":[{"t":0,"t2":0,"v":0.6,"v2":1.8},{"t":0,"t2":0,"v":2,"v2":4},{"t":5.3,"t2":9.6,"v":1.857,"v2":1.857},{"t":1.8,"t2":16,"v":0.67,"v2":0.67},{"t":1.8,"t2":1.8,"v":0.645,"v2":0.695},{"t":6,"t2":6,"v":0.645,"v2":0.695},{"t":11.2,"t2":11.2,"v":0.645,"v2":0.695},{"t":16,"t2":16,"v":0.645,"v2":0.695}]},"mark":{"type":"rule","color":"#222","strokeWidth":1.2},"encoding":{"x2":{"field":"t2"},"y2":{"field":"v2"}}},
      {"data":{"values":[{"t":3.07,"v":3.74,"s":"EpacH187"},{"t":7.4,"v":2.05,"s":"****"},{"t":3.2,"v":0.77,"s":"± Met, ICI"},{"t":8.4,"v":0.77,"s":"ISO"},{"t":13.3,"v":0.94,"s":"FSK /"},{"t":13.3,"v":0.79,"s":"IBMX"}]},"mark":{"type":"text","fontSize":14,"color":"#222"},"encoding":{"text":{"field":"s"}}}
    ],
    "resolve":{"scale":{"color":"independent"}}},
   {"width":220,"height":184,"data":{"name":"e"},
    "title":{"text":"E","subtitle":"\u200b\u00a0\u00a0\u00a0\u00a0\u00a0\u00a0ISO-evoked cAMP with β₁AR or β₂AR inhibition","dx":-152,"offset":12,"fontSize":19,"subtitlePadding":-11},
    "encoding":{"x":{"field":"t","type":"quantitative","scale":{"domain":[0,14],"nice":false},"axis":{"values":[0,2,4,6,8,10,12,14],"title":"Time (mins)","titlePadding":0}},
                "y":{"field":"v","type":"quantitative","scale":{"domain":[0,3.345],"nice":false},"axis":{"values":[0,1,2,3],"title":"ΔR/R0","titleFontSize":13,"domain":false}}},
    "layer":[
      {"mark":{"type":"errorbar","thickness":1},"encoding":{"yError":{"field":"e"},"color":{"field":"s","type":"nominal","scale":{"domain":["WM","RM","WI","RI"],"range":["#8a8a8a","#f08a84","#8a8a8a","#f08a84"]},"legend":null}}},
      {"mark":{"type":"line"},"encoding":{
         "color":{"field":"s","type":"nominal","scale":{"domain":["WM","RM","WI","RI"],"range":["#1a1a1a","#e3261c","#1a1a1a","#e3261c"]},"legend":{"orient":"none","legendX":-39,"legendY":226,"title":null,"symbolType":"stroke","symbolSize":170,"symbolStrokeWidth":1.5,"labelFontSize":13,"rowPadding":0,"labelOffset":6,"labelExpr":"{'WM':'Wistar:\u00a0 metoprolol 10 µmol/L','RM':'pre-SHR:\u00a0 metoprolol 10 µmol/L','WI':'Wistar:\u00a0 ICI-118,551 10 nmol/L','RI':'pre-SHR:\u00a0 ICI-118,551 10 nmol/L'}[datum.label]"}},
         "strokeDash":{"field":"s","type":"nominal","scale":{"domain":["WM","RM","WI","RI"],"range":[[1,0],[1,0],[3,2],[3,2]]},"legend":{"orient":"none","legendX":-39,"legendY":226,"title":null,"symbolType":"stroke","symbolSize":170,"symbolStrokeWidth":1.5,"labelFontSize":13,"rowPadding":0,"labelOffset":6,"labelExpr":"{'WM':'Wistar:\u00a0 metoprolol 10 µmol/L','RM':'pre-SHR:\u00a0 metoprolol 10 µmol/L','WI':'Wistar:\u00a0 ICI-118,551 10 nmol/L','RI':'pre-SHR:\u00a0 ICI-118,551 10 nmol/L'}[datum.label]"}},
         "strokeWidth":{"condition":{"test":"datum.s==='WM'||datum.s==='RM'","value":2},"value":1}}},
      {"data":{"values":[{"t":0,"t2":0,"v":0,"v2":3},{"t":7,"t2":9.7,"v":1.96,"v2":1.96},{"t":2,"t2":14,"v":0.12,"v2":0.12},{"t":2,"t2":2,"v":0.07,"v2":0.17},{"t":6,"t2":6,"v":0.07,"v2":0.37},{"t":10,"t2":10,"v":0.07,"v2":0.37},{"t":14,"t2":14,"v":0.07,"v2":0.17}]},"mark":{"type":"rule","color":"#222","strokeWidth":1.2},"encoding":{"x2":{"field":"t2"},"y2":{"field":"v2"}}},
      {"data":{"values":[{"t":2.77,"v":2.92,"s":"EpacH187","g":"Wistar"},{"t":8.3,"v":2.3,"s":"****","g":"Wistar"},{"t":8.3,"v":2.07,"s":"****","g":"pre-SHR"},{"t":6.6,"v":0.66,"s":"ISO","g":"Wistar"},{"t":8.0,"v":0.39,"s":"10 µmol/L","g":"Wistar"},{"t":3.5,"v":0.3,"s":"Met / ICI","g":"Wistar"},{"t":11.6,"v":0.6,"s":"FSK","g":"Wistar"},{"t":12.2,"v":0.3,"s":"/ IBMX","g":"Wistar"}]},"mark":{"type":"text","fontSize":13.5},"encoding":{"text":{"field":"s"},"color":{"condition":{"test":"datum.g==='pre-SHR'","value":"#e3261c"},"value":"#222"}}}
    ],
    "resolve":{"scale":{"color":"independent"}}}
  ],
  "spacing":185,"bounds":"flush",
  "resolve":{"scale":{"color":"independent","shape":"independent","strokeDash":"independent"},"legend":{"color":"independent","shape":"independent","strokeDash":"independent"}}},
 {"width":1,"height":22,"data":{"values":[{"a":0,"b":1}]},"mark":{"type":"rule","opacity":0},"encoding":{"y":{"field":"a","type":"quantitative","scale":{"domain":[0,1]},"axis":null},"y2":{"field":"b"}}},
 {"hconcat":[
   {"width":1,"height":1,"data":{"values":[{"z":0}]},"mark":{"type":"point","opacity":0}},
   {"vconcat":[
     {"width":288,"height":198,"data":{"name":"f"},
      "title":{"text":"F","subtitle":"\u200b\u00a0\u00a0\u00a0\u00a0\u00a0\u00a0\u00a0FRET Ratio: ISO-evoked cAMP with single or combined β-blocker administration","dx":-200,"offset":13,"subtitleFontSize":10.5,"subtitlePadding":-12.5},
      "layer":[
        {"transform":[{"filter":"datum.id<=2"}],"mark":{"type":"bar"},"encoding":{
           "x":{"field":"id","type":"ordinal","scale":{"domain":[1,2,3,4,5,6,7,8],"paddingInner":0.33,"paddingOuter":0.2},"axis":{"labels":false,"title":null,"tickSize":5}},
           "y":{"field":"v","type":"quantitative","title":"FRET ratio (%)","scale":{"domain":[-20,100],"nice":false},"axis":{"values":[-20,0,20,40,60,80,100],"titleFontSize":14,"labelFontSize":14}},
           "color":{"field":"g","type":"nominal","scale":{"domain":["Wistar","pre-SHR"],"range":["#1a1a1a","#e3261c"]},"legend":{"orient":"none","legendX":218,"legendY":84,"title":null,"symbolType":"square","symbolSize":80,"labelFontSize":14,"rowPadding":2}}}},
        {"transform":[{"filter":"datum.id==3"}],"mark":{"type":"bar","fill":{"gradient":"linear","x1":0,"y1":0,"x2":1,"y2":0,"stops":[{"offset":0,"color":"#1a1a1a"},{"offset":0.14,"color":"#1a1a1a"},{"offset":0.14,"color":"#c8c8c8"},{"offset":0.19,"color":"#c8c8c8"},{"offset":0.19,"color":"#1a1a1a"},{"offset":0.33,"color":"#1a1a1a"},{"offset":0.33,"color":"#c8c8c8"},{"offset":0.38,"color":"#c8c8c8"},{"offset":0.38,"color":"#1a1a1a"},{"offset":0.52,"color":"#1a1a1a"},{"offset":0.52,"color":"#c8c8c8"},{"offset":0.57,"color":"#c8c8c8"},{"offset":0.57,"color":"#1a1a1a"},{"offset":0.71,"color":"#1a1a1a"},{"offset":0.71,"color":"#c8c8c8"},{"offset":0.76,"color":"#c8c8c8"},{"offset":0.76,"color":"#1a1a1a"},{"offset":0.9,"color":"#1a1a1a"},{"offset":0.9,"color":"#c8c8c8"},{"offset":0.95,"color":"#c8c8c8"},{"offset":0.95,"color":"#1a1a1a"},{"offset":1,"color":"#1a1a1a"}]}},
         "encoding":{"x":{"field":"id","type":"ordinal"},"y":{"field":"v","type":"quantitative","title":"FRET ratio (%)"}}},
        {"transform":[{"filter":"datum.id==4"}],"mark":{"type":"bar","fill":{"gradient":"linear","x1":0,"y1":0,"x2":1,"y2":0,"stops":[{"offset":0,"color":"#e3261c"},{"offset":0.14,"color":"#e3261c"},{"offset":0.14,"color":"#f6a8a2"},{"offset":0.19,"color":"#f6a8a2"},{"offset":0.19,"color":"#e3261c"},{"offset":0.33,"color":"#e3261c"},{"offset":0.33,"color":"#f6a8a2"},{"offset":0.38,"color":"#f6a8a2"},{"offset":0.38,"color":"#e3261c"},{"offset":0.52,"color":"#e3261c"},{"offset":0.52,"color":"#f6a8a2"},{"offset":0.57,"color":"#f6a8a2"},{"offset":0.57,"color":"#e3261c"},{"offset":0.71,"color":"#e3261c"},{"offset":0.71,"color":"#f6a8a2"},{"offset":0.76,"color":"#f6a8a2"},{"offset":0.76,"color":"#e3261c"},{"offset":0.9,"color":"#e3261c"},{"offset":0.9,"color":"#f6a8a2"},{"offset":0.95,"color":"#f6a8a2"},{"offset":0.95,"color":"#e3261c"},{"offset":1,"color":"#e3261c"}]}},
         "encoding":{"x":{"field":"id","type":"ordinal"},"y":{"field":"v","type":"quantitative","title":"FRET ratio (%)"}}},
        {"transform":[{"filter":"datum.id==5||datum.id==7"}],"mark":{"type":"bar","fill":{"gradient":"linear","x1":0,"y1":0,"x2":0,"y2":1,"stops":[{"offset":0,"color":"#1a1a1a"},{"offset":0.25,"color":"#1a1a1a"},{"offset":0.25,"color":"#d0d0d0"},{"offset":0.37,"color":"#d0d0d0"},{"offset":0.37,"color":"#1a1a1a"},{"offset":0.62,"color":"#1a1a1a"},{"offset":0.62,"color":"#d0d0d0"},{"offset":0.74,"color":"#d0d0d0"},{"offset":0.74,"color":"#1a1a1a"},{"offset":1,"color":"#1a1a1a"}]}},
         "encoding":{"x":{"field":"id","type":"ordinal"},"y":{"field":"v","type":"quantitative","title":"FRET ratio (%)"}}},
        {"transform":[{"filter":"datum.id==6||datum.id==8"}],"mark":{"type":"bar","fill":{"gradient":"linear","x1":0,"y1":0,"x2":0,"y2":1,"stops":[{"offset":0,"color":"#c41f17"},{"offset":0.25,"color":"#c41f17"},{"offset":0.25,"color":"#5a0d0a"},{"offset":0.37,"color":"#5a0d0a"},{"offset":0.37,"color":"#c41f17"},{"offset":0.62,"color":"#c41f17"},{"offset":0.62,"color":"#5a0d0a"},{"offset":0.74,"color":"#5a0d0a"},{"offset":0.74,"color":"#c41f17"},{"offset":1,"color":"#c41f17"}]}},
         "encoding":{"x":{"field":"id","type":"ordinal"},"y":{"field":"v","type":"quantitative","title":"FRET ratio (%)"}}},
        {"mark":{"type":"rule","color":"#222","strokeWidth":1.3},"encoding":{"y":{"datum":0,"title":"FRET ratio (%)"}}},
        {"mark":{"type":"errorbar","thickness":1.4,"color":"#555","ticks":true},"encoding":{"x":{"field":"id","type":"ordinal"},"y":{"field":"v","type":"quantitative","title":"FRET ratio (%)"},"yError":{"field":"e"}}}
      ]},
     {"width":288,"height":63,"data":{"name":"ft"},"mark":{"type":"text","fontSize":15,"color":"#222"},
      "encoding":{"x":{"field":"id","type":"ordinal","scale":{"domain":[1,2,3,4,5,6,7,8],"paddingInner":0.33,"paddingOuter":0.2},"axis":null},
                  "y":{"field":"r","type":"nominal","scale":{"domain":["a","b","c"]},"axis":{"title":null,"ticks":false,"domain":false,"labelFontSize":14,"labelPadding":4,"labelExpr":"{'a':'ISO\u00a0 (10 µmol/L)','b':'metoprolol (10 µmol/L)','c':'ICI-118,551(10 nmol/L)'}[datum.label]"}},
                  "text":{"field":"s"}}}
    ],
    "spacing":7,"bounds":"flush",
    "resolve":{"scale":{"color":"independent","shape":"independent","strokeDash":"independent"},"legend":{"color":"independent","shape":"independent","strokeDash":"independent"}}}
  ],
  "spacing":172,"bounds":"flush",
  "resolve":{"scale":{"color":"independent","shape":"independent","strokeDash":"independent"},"legend":{"color":"independent","shape":"independent","strokeDash":"independent"}}}
]
}
